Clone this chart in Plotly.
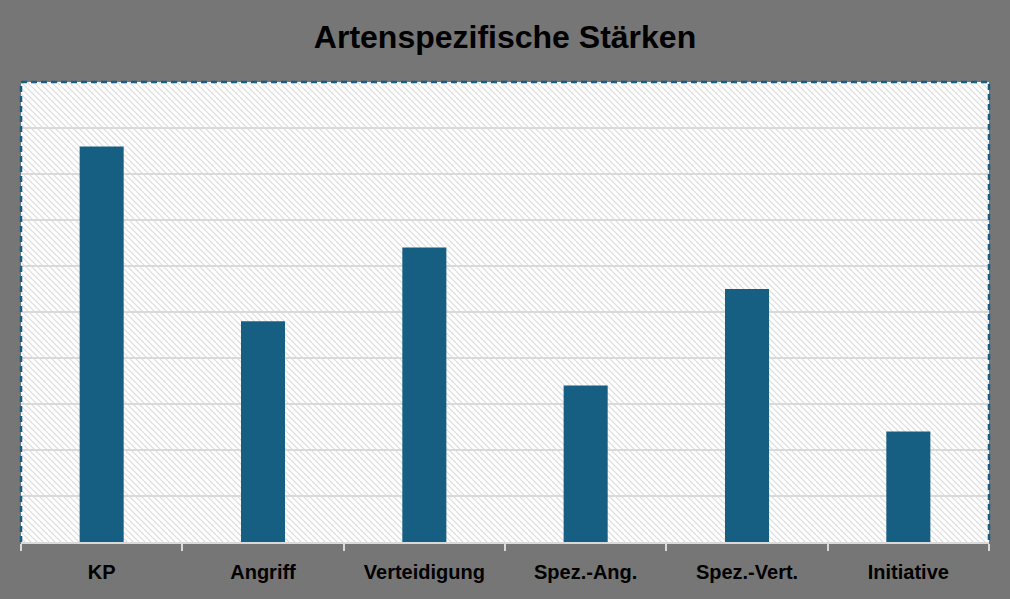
import base64
import plotly.graph_objects as go

categories = ["KP", "Angriff", "Verteidigung", "Spez.-Ang.", "Spez.-Vert.", "Initiative"]
values = [86, 48, 64, 34, 55, 24]
title_text = "Artenspezifische Stärken"

W, H = 1010, 599
ml, mr, mt, mb = 21, 21, 82, 57
pw, ph = W - ml - mr, H - mt - mb

# hatched plot-area background as an inline SVG
svg = f'''<svg xmlns="http://www.w3.org/2000/svg" width="{pw}" height="{ph}" viewBox="0 0 {pw} {ph}">
<defs><pattern id="h" patternUnits="userSpaceOnUse" width="6" height="6">
<rect width="6" height="6" fill="#ffffff"/>
<path d="M-1,-1 L7,7 M-1,5 L1,7 M5,-1 L7,1" stroke="#dcdcdc" stroke-width="1.2"/>
</pattern></defs>
<rect width="{pw}" height="{ph}" fill="url(#h)"/></svg>'''
src = "data:image/svg+xml;base64," + base64.b64encode(svg.encode()).decode()

fig = go.Figure(go.Bar(x=categories, y=values, marker=dict(color="#175F82", line=dict(width=0))))

fig.update_layout(
    width=W, height=H,
    margin=dict(l=ml, r=mr, t=mt, b=mb, pad=0),
    paper_bgcolor="#767676",
    plot_bgcolor="#ffffff",
    bargap=0.727,
    showlegend=False,
    title=dict(text=title_text, x=0.5, xanchor="center", y=1 - 37 / H, yanchor="middle",
               font=dict(family="Liberation Sans", size=32, color="#000000", weight="bold")),
    images=[dict(source=src, xref="paper", yref="paper", x=0, y=1, sizex=1, sizey=1,
                 xanchor="left", yanchor="top", sizing="stretch", layer="below")],
    shapes=[dict(type="path", xref="paper", yref="paper", path="M0,0 L0,1 L1,1 L1,0",
                 line=dict(color="#175F82", width=2.5, dash="6px,4px"), layer="above")],
)
fig.update_xaxes(
    showline=True, linecolor="#d9d9d9", linewidth=2,
    ticks="outside", tickson="boundaries", ticklen=7, tickcolor="#d9d9d9", tickwidth=2,
    showgrid=False,
    tickfont=dict(family="Liberation Sans", size=20, color="#000000", weight="bold"),
    ticklabelstandoff=11,
)
fig.update_yaxes(
    range=[0, 100], dtick=10, showticklabels=False, showgrid=True,
    gridcolor="#d9d9d9", gridwidth=1.5, zeroline=False,
)
fig.write_html("out.html", config={"displayModeBar": False})

with open("out.html", encoding="utf-8") as f:
    html = f.read()
html = html.replace("<head>", "<head><style>html,body{margin:0;padding:0;overflow:hidden;}</style>", 1)
with open("out.html", "w", encoding="utf-8") as f:
    f.write(html)
